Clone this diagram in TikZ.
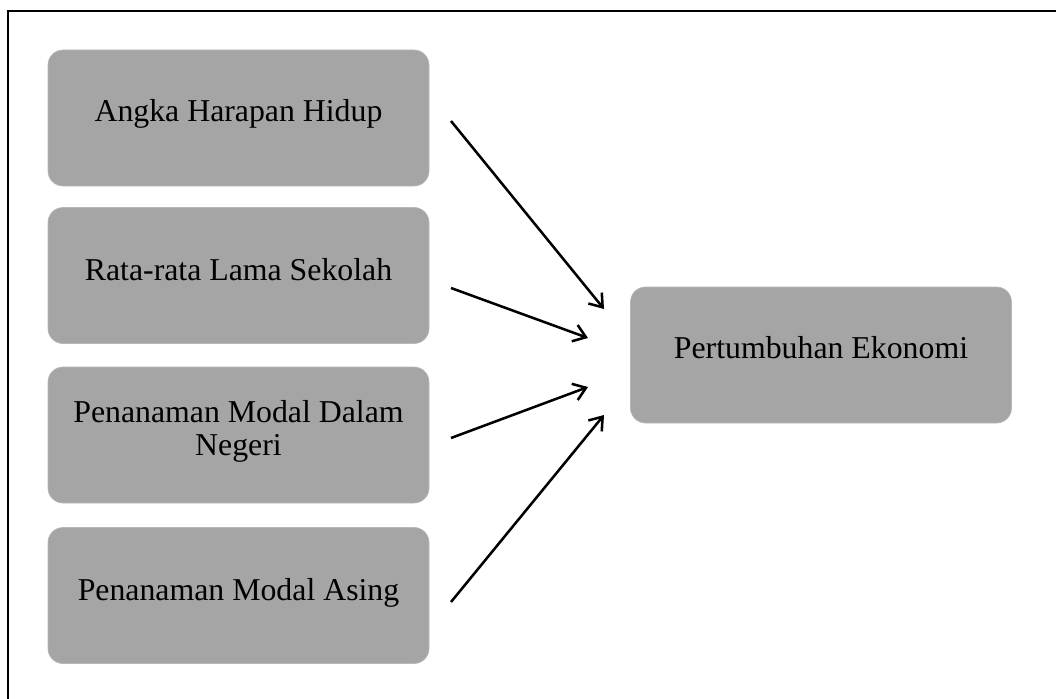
\documentclass[tikz,border=0pt]{standalone}
\usepackage{fontspec}
\setmainfont{Liberation Serif}
\usetikzlibrary{arrows.meta}
\definecolor{boxgray}{HTML}{A5A5A5}
\tikzset{
  box/.style={rectangle, rounded corners=11.25pt, fill=boxgray, draw=boxgray!80!white, line width=0.5pt,
    minimum width=285.75pt, minimum height=102pt, inner sep=0pt},
  txt/.style={inner sep=0pt, align=center, font=\fontsize{23.85}{24.75}\selectfont, text=black},
  arr/.style={line width=1.9pt, -{Straight Barb[length=9pt,width=13pt,line width=1.9pt]}},
  frame/.style={line width=1.6pt, line cap=rect}
}
\begin{document}
\begin{tikzpicture}[x=0.75pt,y=-0.75pt]
\useasboundingbox (0,0) rectangle (1056,699);
\coordinate (fbl) at (8,705);
\coordinate (ftl) at (8,11);
\coordinate (ftr) at (1062,11);
\draw[frame] (fbl) -- (ftl) -- (ftr);

\node[box] (b1) at (238.5,118) {};
\node[box] (b2) at (238.5,275.5) {};
\node[box] (b3) at (238.5,435) {};
\node[box] (b4) at (238.5,595.5) {};
\node[box] (b5) at (821,355) {};

\node[txt, anchor=base] (t1) at (238.5,122) {Angka Harapan Hidup};
\node[txt, anchor=base] (t2) at (238.5,280) {Rata-rata Lama Sekolah};
\node[txt, anchor=base] (t3) at (238.5,455) {Penanaman Modal Dalam\\Negeri};
\node[txt, anchor=base] (t4) at (238.5,600) {Penanaman Modal Asing};
\node[txt, anchor=base] (t5) at (821,358) {Pertumbuhan Ekonomi};

\coordinate (s1) at (451,121);
\coordinate (s2) at (451,288);
\coordinate (s3) at (451,438);
\coordinate (s4) at (451,602);
\coordinate (e1) at (604,309);
\coordinate (e2) at (588,338);
\coordinate (e3) at (588,387);
\coordinate (e4) at (604,415);

\draw[arr] (s1) -- (e1);
\draw[arr] (s2) -- (e2);
\draw[arr] (s3) -- (e3);
\draw[arr] (s4) -- (e4);
\end{tikzpicture}
\end{document}
